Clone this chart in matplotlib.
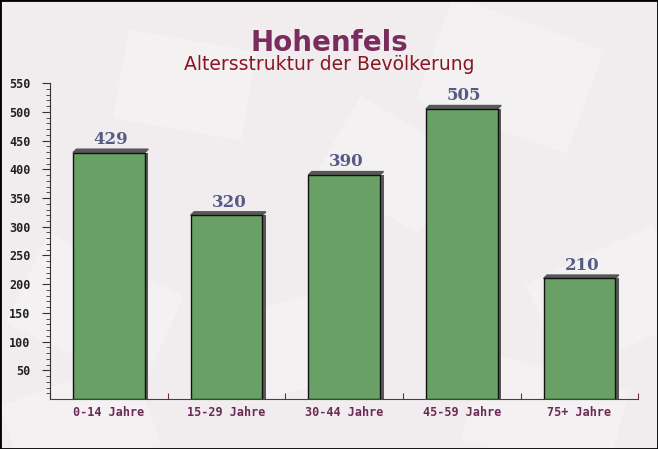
import numpy as np
import matplotlib
matplotlib.use('Agg')
import matplotlib.pyplot as plt
from matplotlib.patches import Rectangle
import matplotlib.transforms as mtransforms

# Daten
categories = ['0-14 Jahre', '15-29 Jahre', '30-44 Jahre', '45-59 Jahre', '75+ Jahre']
values = [429, 320, 390, 505, 210]
yticks = [50, 100, 150, 200, 250, 300, 350, 400, 450, 500, 550]

fig = plt.figure(figsize=(6.58, 4.49), dpi=100)
fig.patch.set_facecolor('#f1edef')

# ein paar helle "Briefumschlaege" im Hintergrund (Pixel, y nach unten)
env = [(20, 260, 150, 100, 25), (230, 300, 130, 90, -15), (430, 20, 160, 110, 20),
       (540, 250, 140, 100, -25), (120, 40, 130, 90, 10), (330, 120, 120, 90, 30),
       (10, 380, 140, 90, -20), (470, 370, 150, 90, 15)]
for ex, ey, ew, eh, ang in env:
    tr = mtransforms.Affine2D().rotate_deg_around(ex + ew / 2, ey + eh / 2, ang) \
        + mtransforms.Affine2D().scale(1, -1).translate(0, 449)
    r = Rectangle((ex, ey), ew, eh, facecolor='white', alpha=0.25, edgecolor='none',
                  transform=tr, zorder=0)
    fig.add_artist(r)

ax = fig.add_axes([0.076, 0.111, 0.894, 0.704])
ax.set_facecolor('none')

x = np.arange(len(categories))
width = 0.61

# Schatten (nach rechts oben versetzt)
ax.bar(x + 0.03, values, width=width, color='#585858', zorder=2)
for xi, v in zip(x, values):
    ax.fill([xi - width / 2, xi - width / 2 + 0.03, xi + width / 2 + 0.03, xi + width / 2],
            [v, v + 6, v + 6, v], color='#585858', zorder=2)
ax.bar(x, values, width=width, color='#68a065', edgecolor='#111111', linewidth=1.0, zorder=3)

for xi, v in zip(x, values):
    ax.text(xi + 0.02, v + 8, str(v), ha='center', va='bottom', fontsize=12,
            fontweight='bold', family='DejaVu Serif', color='#565b86', zorder=4)

ax.set_xlim(-0.5, len(categories) - 0.5)
ax.set_ylim(0, 550)
ax.set_yticks(yticks)
ax.set_yticks(np.arange(10, 551, 10), minor=True)
ax.set_xticks(x)
ax.set_xticklabels(categories)
ax.set_xticks(np.arange(-0.5, len(categories), 1.0), minor=True)

for lbl in ax.get_yticklabels():
    lbl.set_family('DejaVu Sans Mono')
    lbl.set_fontweight('bold')
    lbl.set_fontsize(8.5)
    lbl.set_color('#222222')
for lbl in ax.get_xticklabels():
    lbl.set_family('DejaVu Sans Mono')
    lbl.set_fontweight('bold')
    lbl.set_fontsize(8.5)
    lbl.set_color('#6b2a55')

ax.tick_params(axis='y', which='major', length=6, width=0.8, color='#333333', pad=8)
ax.tick_params(axis='y', which='minor', length=3, width=0.6, color='#333333')
ax.tick_params(axis='x', which='major', length=0, pad=5)
ax.tick_params(axis='x', which='minor', length=4, width=0.8, color='#6b2a55', direction='in')

for s in ['top', 'right']:
    ax.spines[s].set_visible(False)
ax.spines['left'].set_color('#333333')
ax.spines['bottom'].set_color('#6b2a55')

fig.text(0.5, 0.905, 'Hohenfels', ha='center', va='center', fontsize=20,
         fontweight='bold', color='#7a2d5c', family='DejaVu Sans')
fig.text(0.5, 0.856, 'Altersstruktur der Bevölkerung', ha='center', va='center',
         fontsize=13.5, color='#8b1520', family='DejaVu Sans')

# Rahmen
fig.add_artist(Rectangle((0, 0), 1, 1, transform=fig.transFigure, fill=False,
                         edgecolor='black', linewidth=2))

fig.savefig('out.png', dpi=100, facecolor=fig.get_facecolor())
